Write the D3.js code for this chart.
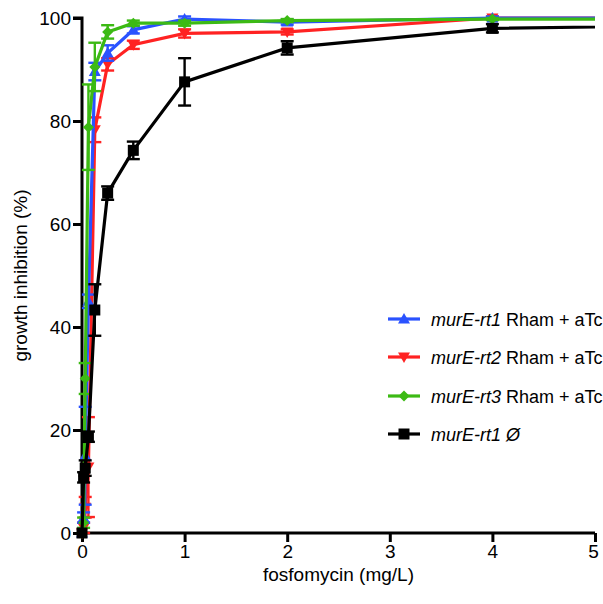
<!DOCTYPE html>
<html>
<head>
<meta charset="utf-8">
<script src="https://cdn.jsdelivr.net/npm/d3@7"></script>
<style>
  body { margin: 0; background: #fff; }
  svg { font-family: "Liberation Sans", Arial, sans-serif; }
</style>
</head>
<body>
<div id="chart"></div>
<script>
// concentrations (mg/L) and mean growth inhibition (%) with SD
var doses      = [0, 0.015625, 0.03125, 0.0625, 0.125, 0.25, 0.5, 1, 2, 4, 8];
var rt1Values  = [0, 3, 15, 45, 89.6, 93.2, 97.7, 99.8, 99.2, 100, 100];
var rt1Err     = [0, 1, 9.5, 1.3, 1.7, 1.5, 0.7, 0.5, 0.5, 0.3, 0.3];
var rt2Values  = [0, 1, 5, 12.8, 78.3, 91, 94.8, 97, 97.3, 100, 100];
var rt2Err     = [0, 1, 2, 9.7, 2.4, 1.2, 0.8, 0.8, 0.5, 0.3, 0.3];
var rt3Values  = [0, 2, 30, 78.8, 90.5, 97.3, 99, 99, 99.5, 99.8, 99.8];
var rt3Err     = [0, 1, 3, 8.3, 4.7, 1.3, 0.5, 0.5, 0.3, 0.2, 0.2];
var ctrlValues = [0, 10.8, 12.6, 18.7, 43.3, 66, 74.3, 87.6, 94.2, 98, 99];
var ctrlErr    = [0, 1, 1.5, 1, 5, 1.3, 1.7, 4.6, 1.3, 0.8, 0.5];
var xTicks     = [0, 1, 2, 3, 4, 5];
var yTicks     = [0, 20, 40, 60, 80, 100];

var series = [
    {name: 'murE-rt2', rest: ' Rham + aTc', color: '#ff2222', symbol: 'down', values: rt2Values, err: rt2Err, legendRow: 1},
    {name: 'murE-rt1', rest: ' Rham + aTc', color: '#2a52ff', symbol: 'up', values: rt1Values, err: rt1Err, legendRow: 0},
    {name: 'murE-rt3', rest: ' Rham + aTc', color: '#3cba14', symbol: 'diamond', values: rt3Values, err: rt3Err, legendRow: 2},
    {name: 'murE-rt1', rest: ' \u00d8', color: '#000000', symbol: 'square', values: ctrlValues, err: ctrlErr, legendRow: 3, italicAll: true}
];

var width = 603, height = 604;
var margin = {top: 18, right: 8, bottom: 71, left: 82};
var fontSize = '19px';

var svg = d3.select('#chart').append('svg')
    .attr('width', width)
    .attr('height', height);

var x = d3.scaleLinear().domain([0, 5]).range([margin.left, width - margin.right]);
var y = d3.scaleLinear().domain([0, 100]).range([height - margin.bottom, margin.top]);

svg.append('defs').append('clipPath').attr('id', 'plotclip')
    .append('rect')
    .attr('x', x(0) - 10).attr('y', 0)
    .attr('width', x(5) - x(0) + 10).attr('height', height);

function symbolPath(kind, cx, cy) {
    var s;
    if (kind === 'up') {
        s = 6;
        return 'M' + cx + ',' + (cy - s) + 'L' + (cx + s) + ',' + (cy + s * 0.75) + 'L' + (cx - s) + ',' + (cy + s * 0.75) + 'Z';
    } else if (kind === 'down') {
        s = 6;
        return 'M' + cx + ',' + (cy + s) + 'L' + (cx + s) + ',' + (cy - s * 0.75) + 'L' + (cx - s) + ',' + (cy - s * 0.75) + 'Z';
    } else if (kind === 'diamond') {
        s = 5.5;
        return 'M' + cx + ',' + (cy - s) + 'L' + (cx + s) + ',' + cy + 'L' + cx + ',' + (cy + s) + 'L' + (cx - s) + ',' + cy + 'Z';
    }
    s = 5.5;
    return 'M' + (cx - s) + ',' + (cy - s) + 'h' + (2 * s) + 'v' + (2 * s) + 'h' + (-2 * s) + 'Z';
}

// axes
var yAxis = d3.axisLeft(y).tickValues(yTicks).tickSize(9).tickPadding(2).tickFormat(d3.format('d'));
var xAxis = d3.axisBottom(x).tickValues(xTicks).tickSize(9).tickPadding(3).tickFormat(d3.format('d'));

var gy = svg.append('g')
    .attr('transform', 'translate(' + x(0) + ',0)')
    .call(yAxis);
var gx = svg.append('g')
    .attr('transform', 'translate(0,' + y(0) + ')')
    .call(xAxis);

[gx, gy].forEach(function(g){
    g.select('.domain').attr('stroke', '#000').attr('stroke-width', 3)
        .attr('d', g === gy
            ? 'M-9,' + y(100) + 'H0V' + y(0)
            : 'M' + x(0) + ',0H' + x(5));
    g.selectAll('.tick line').attr('stroke', '#000').attr('stroke-width', 3);
    g.selectAll('.tick text').attr('fill', '#000').style('font-size', fontSize)
        .style('font-family', '"Liberation Sans", Arial, sans-serif');
});
gx.selectAll('.tick').filter(function(d){ return d === 5; }).select('text').attr('dx', -2);

svg.append('text')
    .attr('transform', 'translate(27,' + ((y(0) + y(100)) / 2) + ') rotate(-90)')
    .attr('text-anchor', 'middle')
    .style('font-size', fontSize)
    .text('growth inhibition (%)');

svg.append('text')
    .attr('x', (x(0) + x(5)) / 2)
    .attr('y', 581)
    .attr('text-anchor', 'middle')
    .style('font-size', fontSize)
    .text('fosfomycin (mg/L)');

// data
var plot = svg.append('g').attr('clip-path', 'url(#plotclip)');

var line = d3.line()
    .x(function(d){ return x(d.x); })
    .y(function(d){ return y(d.y); });

series.forEach(function(s){
    var pts = doses.map(function(d, i){ return {x: d, y: s.values[i], e: s.err[i]}; });
    var g = plot.append('g');

    g.append('path')
        .datum(pts)
        .attr('fill', 'none')
        .attr('stroke', s.color)
        .attr('stroke-width', 3.2)
        .attr('d', line);

    var eb = g.selectAll('.err').data(pts.filter(function(p){ return p.e > 0; })).enter().append('g');
    eb.append('line')
        .attr('x1', function(d){ return x(d.x); })
        .attr('x2', function(d){ return x(d.x); })
        .attr('y1', function(d){ return y(d.y - d.e); })
        .attr('y2', function(d){ return y(d.y + d.e); })
        .attr('stroke', s.color).attr('stroke-width', 2.4);
    [-1, 1].forEach(function(sign){
        eb.append('line')
            .attr('x1', function(d){ return x(d.x) - 6.5; })
            .attr('x2', function(d){ return x(d.x) + 6.5; })
            .attr('y1', function(d){ return y(d.y + sign * d.e); })
            .attr('y2', function(d){ return y(d.y + sign * d.e); })
            .attr('stroke', s.color).attr('stroke-width', 2.4);
    });

    g.selectAll('.pt').data(pts).enter().append('path')
        .attr('d', function(d){ return symbolPath(s.symbol, x(d.x), y(d.y)); })
        .attr('fill', s.color);
});

// legend
var legend = svg.append('g');
var rowY = [319, 357, 396, 434];
series.forEach(function(s){
    var ly = rowY[s.legendRow];
    legend.append('line')
        .attr('x1', 388).attr('x2', 420)
        .attr('y1', ly).attr('y2', ly)
        .attr('stroke', s.color).attr('stroke-width', 3.2);
    legend.append('path')
        .attr('d', symbolPath(s.symbol, 404, ly))
        .attr('fill', s.color);
    var t = legend.append('text')
        .attr('x', 431).attr('y', ly + 6.5)
        .style('font-size', '18px');
    t.append('tspan').style('font-style', 'italic').text(s.name);
    t.append('tspan').style('font-style', s.italicAll ? 'italic' : 'normal').text(s.rest);
});
</script>
</body>
</html>
